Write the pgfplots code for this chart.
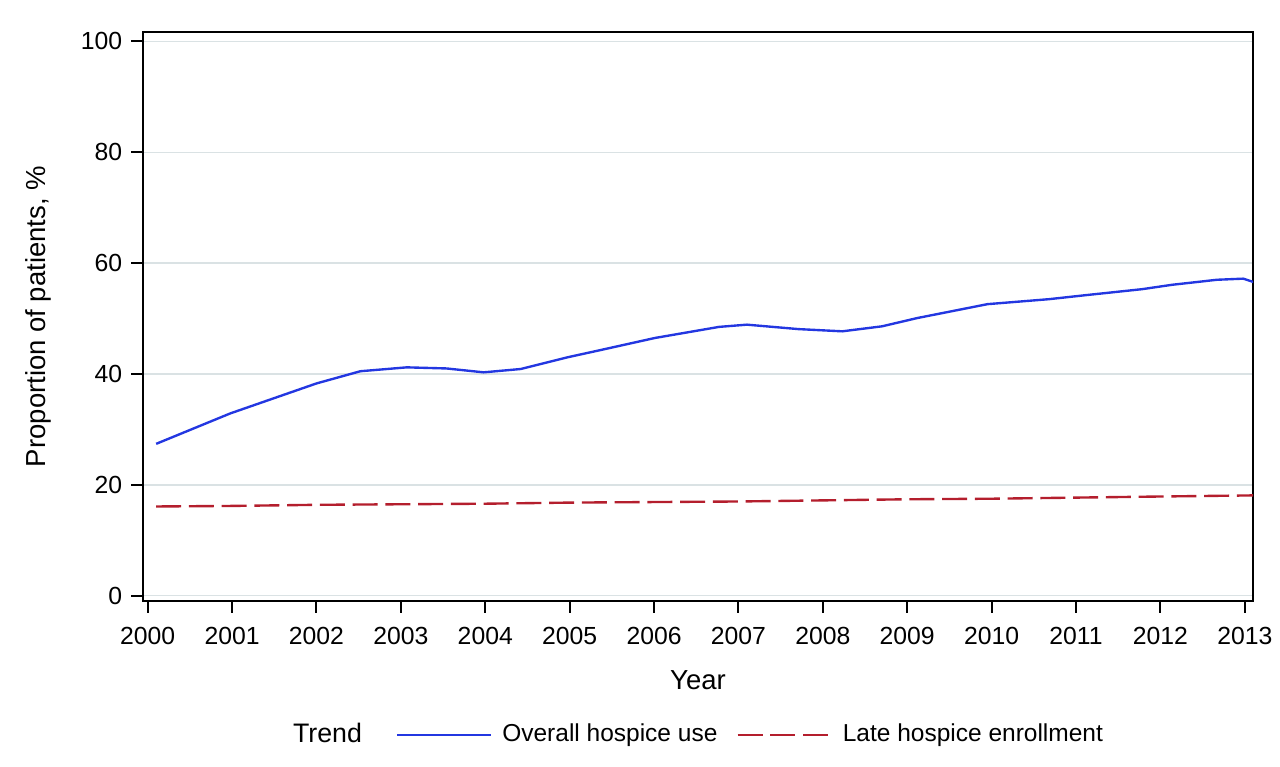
\documentclass[border=0pt]{standalone}
\usepackage{pgfplots}
\pgfplotsset{compat=1.18}
\usepackage{fontspec}
\setmainfont{Liberation Sans}
\definecolor{blueline}{RGB}{35,55,225}
\definecolor{redline}{RGB}{180,30,45}
\definecolor{gridc}{RGB}{218,226,228}
\begin{document}
\begin{tikzpicture}
\begin{axis}[
  scale only axis, width=444pt, height=227.6pt,
  xmin=1999.944, xmax=2013.096, ymin=-0.95, ymax=101.7,
  xtick={2000,...,2013}, ytick={0,20,...,100},
  /pgf/number format/.cd, 1000 sep={}, assume math mode=true, /pgfplots/.cd,
  tick align=outside, major tick length=4.8pt,
  xtick pos=bottom, ytick pos=left,
  tick style={black, line width=0.8pt},
  axis line style={line width=1.1pt},
  ymajorgrids, grid style={gridc, line width=0.6pt},
  tick label style={font=\fontsize{9.9}{12}\selectfont},
  xticklabel style={yshift=-2.3pt},
  xlabel={Year}, ylabel={Proportion of patients, \%},
  label style={font=\fontsize{11}{13}\selectfont},
  xlabel style={at={(axis description cs:0.5,-0.1564)}, anchor=base},
  ylabel style={at={(axis description cs:-0.0946,0.5)}, anchor=center},
  legend style={at={(axis description cs:0.4955,-0.2355)}, anchor=center, draw=none,
    font=\fontsize{9.8}{12}\selectfont, nodes={inner sep=0pt},
    /tikz/every odd column/.append style={column sep=4pt},
    /tikz/every even column/.append style={column sep=7.6pt}},
  legend columns=-1,
  legend image code/.code={\draw[#1] (0pt,0pt) -- (37.6pt,0pt);},
]
\addlegendimage{empty legend}
\addlegendentry{\fontsize{10.7}{12}\selectfont Trend\rule{6pt}{0pt}}
\addplot[blueline, line width=0.95pt] coordinates {
(2000.10,27.4) (2000.98,32.9) (2002.00,38.3) (2002.52,40.5) (2003.07,41.2)
(2003.54,41.0) (2003.98,40.3) (2004.42,40.9) (2004.97,43.0) (2005.36,44.3)
(2006.01,46.5) (2006.77,48.5) (2007.10,48.9) (2007.71,48.1) (2008.23,47.7)
(2008.70,48.6) (2009.12,50.1) (2009.95,52.6) (2010.68,53.5) (2011.10,54.2)
(2011.78,55.3) (2012.14,56.1) (2012.67,57.0) (2012.98,57.2) (2013.10,56.6)
};
\addlegendentry{Overall hospice use}
\addplot[redline, line width=0.95pt, dash pattern=on 10pt off 3.1pt] coordinates {
(2000.10,16.1) (2001,16.2) (2002,16.4) (2003,16.5) (2004,16.6) (2005,16.8)
(2006,16.9) (2007,17.0) (2008,17.2) (2009,17.4) (2010,17.5) (2011,17.7)
(2012,17.9) (2013.10,18.1)
};
\addlegendentry{Late hospice enrollment}
\coordinate (O) at (rel axis cs:0,0);
\end{axis}
\pgfresetboundingbox
\path[use as bounding box] (O) ++(-57.2pt,-66.4pt) rectangle ++(512pt,306.8pt);
\end{tikzpicture}
\end{document}
